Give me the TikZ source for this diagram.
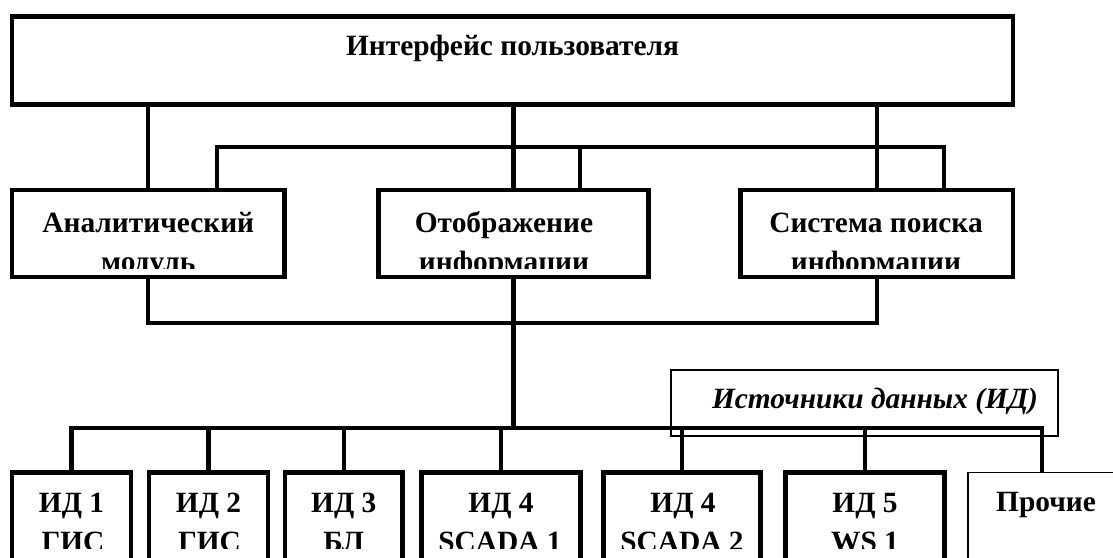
\documentclass[tikz,border=0pt]{standalone}
\usepackage{fontspec}
\setmainfont{Liberation Serif}
\begin{document}
\begin{tikzpicture}[x=1pt,y=-1pt,
    box/.style={draw,line width=4.8pt,inner sep=0pt},
    thinbox/.style={draw,line width=1.8pt,inner sep=0pt},
    conn/.style={line width=4.3pt},
    lbl/.style={font=\fontsize{29.4}{39.6}\selectfont\bfseries,inner sep=0pt,anchor=base}]
    % Frame
    \useasboundingbox (0,0) rectangle (1113,557);
    \clip (0,0) rectangle (1113,557);

    % Top box
    \node[box,minimum width=1001pt,minimum height=88pt] (ui) at (512.5,60.6) {};
    \node[lbl] (uit) at (512.5,55) {Интерфейс пользователя};

    % Modules
    \node[box,minimum width=272.5pt,minimum height=87pt] (am) at (148.25,233.5) {};
    \node[box,minimum width=270pt,minimum height=87pt] (om) at (513.5,233.5) {};
    \node[box,minimum width=272.5pt,minimum height=87pt] (sp) at (876.75,233.5) {};
    \begin{scope}
        \clip (0,192) rectangle (1113,268);
        \node[lbl] (amt1) at (148.3,232) {Аналитический};
        \node[lbl] (amt2) at (148.3,271.6) {модуль};
        \node[lbl] (omt1) at (504,232) {Отображение};
        \node[lbl] (omt2) at (504,271.6) {информации};
        \node[lbl] (spt1) at (876,232) {Система поиска};
        \node[lbl] (spt2) at (876,271.6) {информации};
    \end{scope}

    % UI to modules
    \foreach \m in {am,om,sp}
        \draw[conn] (ui.south -| \m.north) -- (\m.north);
    \coordinate (b1) at (217,147);
    \coordinate (b2) at (944,147);
    \coordinate (b3) at (580,147);
    \draw[conn] (am.north -| b1) -- (b1) -- (b2) -- (sp.north -| b2);
    \draw[conn] (b3) -- (om.north -| b3);

    % Modules to sources
    \coordinate (lb) at (513,323);
    \coordinate (hub) at (513,428);
    \draw[conn] (am.south) |- (lb) -| (sp.south);
    \draw[conn] (om.south) -- (om.south |- hub);

    % Sources
    \node[thinbox,minimum width=387pt,minimum height=66pt] (src) at (864.5,403) {};
    \node[lbl,font=\fontsize{29.4}{39.6}\selectfont\bfseries\itshape] (srct) at (875,408) {Источники данных (ИД)};

    \node[box,minimum width=119pt,minimum height=160pt] (id1) at (71.5,552.5) {};
    \node[box,minimum width=119pt,minimum height=160pt] (id2) at (208.5,552.5) {};
    \node[box,minimum width=117.5pt,minimum height=160pt] (id3) at (343.75,552.5) {};
    \node[box,minimum width=159pt,minimum height=160pt] (id4) at (501,552.5) {};
    \node[box,minimum width=157pt,minimum height=160pt] (id4b) at (682,552.5) {};
    \node[box,minimum width=159pt,minimum height=160pt] (id5) at (865,552.5) {};
    \node[thinbox,minimum width=148pt,minimum height=160pt] (other) at (1042,552.5) {};
    \begin{scope}
        \clip (0,475) rectangle (1113,548.5);
        \node[lbl] (id1t1) at (71.5,512) {ИД 1};
        \node[lbl] (id1t2) at (73,551.6) {ГИС};
        \node[lbl] (id2t1) at (208.5,512) {ИД 2};
        \node[lbl] (id2t2) at (209.5,551.6) {ГИС};
        \node[lbl] (id3t1) at (343.75,512) {ИД 3};
        \node[lbl] (id3t2) at (343.75,551.6) {БЛ};
        \node[lbl] (id4t1) at (501,512) {ИД 4};
        \node[lbl] (id4t2) at (500,551.6) {SCADA 1};
        \node[lbl] (id4bt1) at (683,512) {ИД 4};
        \node[lbl] (id4bt2) at (682,551.6) {SCADA 2};
        \node[lbl] (id5t1) at (865,512) {ИД 5};
        \node[lbl] (id5t2) at (865,551.6) {WS 1};
    \end{scope}
    \node[lbl] (othert) at (1046,511) {Прочие};

    % Bus to sources
    \draw[conn] (id1.north) |- (hub) -| (other.north);
    \foreach \n in {id2,id3,id4,id4b,id5}
        \draw[conn] (\n.north) -- (\n.north |- hub);
\end{tikzpicture}
\end{document}
